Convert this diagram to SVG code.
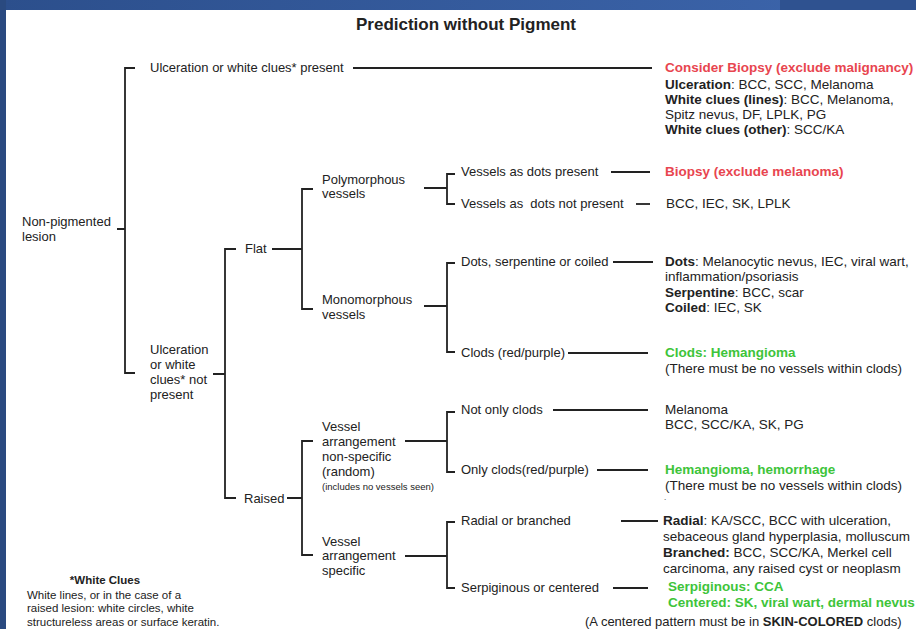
<svg xmlns="http://www.w3.org/2000/svg" width="916" height="629" viewBox="0 0 916 629">
<defs>
<linearGradient id="band" x1="0" y1="0" x2="1" y2="0">
<stop offset="0" stop-color="#2c4f8c"/>
<stop offset="1" stop-color="#3d66ad"/>
</linearGradient>
<style>
text{font-family:"Liberation Sans",Arial,sans-serif;fill:#222;}
.t{font-size:13px;}
.r{font-size:13.5px;}
.b{font-weight:bold;}
.red{fill:#e8454f;font-weight:bold;}
.grn{fill:#3ec43a;font-weight:bold;}
.sm{font-size:9.5px;}
.fn{font-size:11.5px;}
#connectors path{fill:none;stroke:#222;stroke-width:1.8;}
</style>
</defs>
<rect x="0" y="0" width="916" height="629" fill="#ffffff"/>
<rect x="0" y="0" width="916" height="10" fill="url(#band)"/>
<rect x="780" y="0" width="136" height="10" fill="#2f5290"/>
<rect x="0" y="0" width="6" height="629" fill="#2a4a80"/>

<text x="466" y="30" text-anchor="middle" class="b" style="font-size:17px">Prediction without Pigment</text>

<g id="connectors">
<path d="M117 229H125M135 68H125V373H135"/>
<path d="M353 68H652"/>
<path d="M213 374H225M236 249H225V498H236"/>
<path d="M272 249H302M313 189H302V309H313"/>
<path d="M287 498H302M313 441H302V555H313"/>
<path d="M424 188H447M455 174H447V204H455"/>
<path d="M424 306H447M455 263H447V352H455"/>
<path d="M405 441H447M455 412H447V472H455"/>
<path d="M405 556H447M455 522H447V588H455"/>
<path d="M611 172H650"/>
<path d="M636 204H650"/>
<path d="M613 262H653"/>
<path d="M568 353H648"/>
<path d="M553 410H648"/>
<path d="M597 470H648"/>
<path d="M621 521H658"/>
<path d="M613 588H648"/>
</g>

<g id="n-root"><text class="t" x="22" y="226">Non-pigmented</text><text class="t" x="22" y="241">lesion</text></g>
<g id="n-ulc-present"><text class="t" x="150" y="72">Ulceration or white clues* present</text></g>
<g id="n-ulc-not"><text class="t" x="150" y="354">Ulceration</text><text class="t" x="150" y="369">or white</text><text class="t" x="150" y="384">clues* not</text><text class="t" x="150" y="399">present</text></g>
<g id="n-flat"><text class="t" x="245" y="253">Flat</text></g>
<g id="n-raised"><text class="t" x="244" y="503">Raised</text></g>
<g id="n-poly"><text class="t" x="322" y="184">Polymorphous</text><text class="t" x="322" y="198">vessels</text></g>
<g id="n-mono"><text class="t" x="322" y="304">Monomorphous</text><text class="t" x="322" y="319">vessels</text></g>
<g id="n-nonspec"><text class="t" x="322" y="431">Vessel</text><text class="t" x="322" y="446">arrangement</text><text class="t" x="322" y="461">non-specific</text><text class="t" x="322" y="476">(random)</text><text class="sm" x="322" y="490">(includes no vessels seen)</text></g>
<g id="n-spec"><text class="t" x="322" y="546">Vessel</text><text class="t" x="322" y="560">arrangement</text><text class="t" x="322" y="575">specific</text></g>

<g id="n-dots-present"><text class="t" x="461" y="176">Vessels as dots present</text></g>
<g id="n-dots-not"><text class="t" x="461" y="208" xml:space="preserve">Vessels as  dots not present</text></g>
<g id="n-dsc"><text class="t" x="461" y="266">Dots, serpentine or coiled</text></g>
<g id="n-clods"><text class="t" x="461" y="357">Clods (red/purple)</text></g>
<g id="n-notonly"><text class="t" x="461" y="414">Not only clods</text></g>
<g id="n-only"><text class="t" x="461" y="474">Only clods(red/purple)</text></g>
<g id="n-radial"><text class="t" x="461" y="525">Radial or branched</text></g>
<g id="n-serp"><text class="t" x="461" y="592">Serpiginous or centered</text></g>

<g id="r-consider">
<text class="r red" x="665" y="72">Consider Biopsy (exclude malignancy)</text>
<text class="r" x="665" y="89"><tspan class="b">Ulceration</tspan>: BCC, SCC, Melanoma</text>
<text class="r" x="665" y="104"><tspan class="b">White clues (lines)</tspan>: BCC, Melanoma,</text>
<text class="r" x="665" y="119">Spitz nevus, DF, LPLK, PG</text>
<text class="r" x="665" y="134"><tspan class="b">White clues (other)</tspan>: SCC/KA</text>
</g>
<g id="r-biopsy"><text class="r red" x="665" y="176">Biopsy (exclude melanoma)</text></g>
<g id="r-bcc"><text class="r" x="666" y="208">BCC, IEC, SK, LPLK</text></g>
<g id="r-dots">
<text class="r" x="665" y="266"><tspan class="b">Dots</tspan>: Melanocytic nevus, IEC, viral wart,</text>
<text class="r" x="665" y="281">inflammation/psoriasis</text>
<text class="r" x="665" y="297"><tspan class="b">Serpentine</tspan>: BCC, scar</text>
<text class="r" x="665" y="312"><tspan class="b">Coiled</tspan>: IEC, SK</text>
</g>
<g id="r-clods">
<text class="r grn" x="665" y="357">Clods: Hemangioma</text>
<text class="r" x="665" y="373">(There must be no vessels within clods)</text>
</g>
<g id="r-melanoma">
<text class="r" x="665" y="414">Melanoma</text>
<text class="r" x="665" y="429">BCC, SCC/KA, SK, PG</text>
</g>
<g id="r-hem">
<text class="r grn" x="665" y="474">Hemangioma, hemorrhage</text>
<text class="r" x="665" y="490">(There must be no vessels within clods)</text>
<text x="664" y="500" style="font-size:8px">.</text>
</g>
<g id="r-radial">
<text class="r" x="663" y="525"><tspan class="b">Radial</tspan>: KA/SCC, BCC with ulceration,</text>
<text class="r" x="663" y="541">sebaceous gland hyperplasia, molluscum</text>
<text class="r" x="663" y="557"><tspan class="b">Branched:</tspan> BCC, SCC/KA, Merkel cell</text>
<text class="r" x="663" y="573">carcinoma, any raised cyst or neoplasm</text>
</g>
<g id="r-serp">
<text class="r grn" x="668" y="591">Serpiginous: CCA</text>
<text class="r grn" x="668" y="607">Centered: SK, viral wart, dermal nevus</text>
<text x="585" y="626" style="font-size:13px">(A centered pattern must be in <tspan class="b">SKIN-COLORED</tspan> clods)</text>
</g>

<g id="footnote">
<text class="fn b" x="105" y="584" text-anchor="middle">*White Clues</text>
<text class="fn" x="27" y="599">White lines, or in the case of a</text>
<text class="fn" x="27" y="612">raised lesion: white circles, white</text>
<text class="fn" x="27" y="626">structureless areas or surface keratin.</text>
</g>
</svg>
